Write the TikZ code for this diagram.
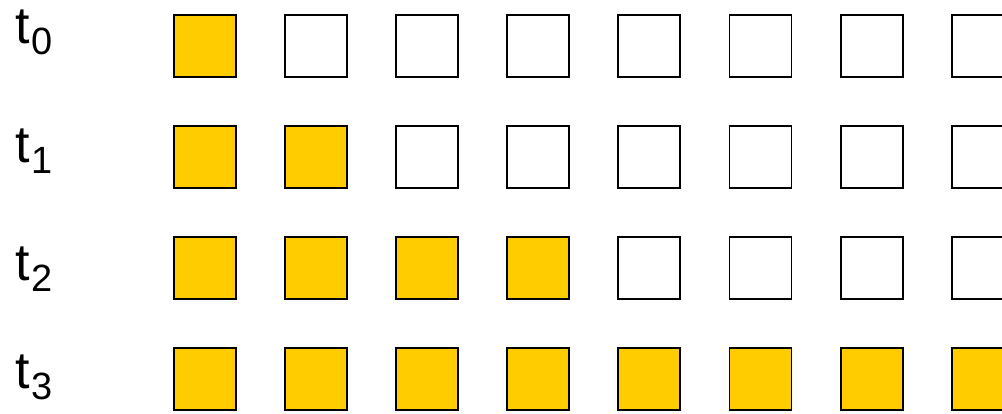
\documentclass[tikz,border=0pt]{standalone}
\usepackage{fontspec}
\setmainfont{Liberation Sans}
\usetikzlibrary{positioning}
\definecolor{cellgold}{HTML}{FFCC00}

\begin{document}
\begin{tikzpicture}[x=0.025cm,y=-0.025cm]
\tikzset{cell/.style={draw,line width=1.4pt,minimum size=1.55cm,inner sep=0pt},
         filled/.style={cell,fill=cellgold},
         steplabel/.style={anchor=base west,inner sep=0pt,font=\fontsize{37}{37}\selectfont}}
\clip (0,0) rectangle (1002,414);
% ---------- row labels t_0 .. t_3 ----------
\foreach \r/\base in {0/43,1/162,2/280,3/388}
  \node[steplabel] (t\r) at (15,\base) {t\kern1.5pt\raisebox{-8.5pt}{\fontsize{27}{27}\selectfont\r}};
% ---------- cells: row r has 2^r filled ----------
\foreach \r/\n in {0/1,1/2,2/4,3/8} {
  \foreach \c in {0,...,7} {
    \pgfmathtruncatemacro{\isfull}{\c<\n ? 1 : 0}
    \ifnum\isfull=1
      \node[filled] (c\r\c) at (205+111.1*\c,46+111*\r) {};
    \else
      \node[cell] (c\r\c) at (205+111.1*\c,46+111*\r) {};
    \fi
  }
}
\end{tikzpicture}
\end{document}
